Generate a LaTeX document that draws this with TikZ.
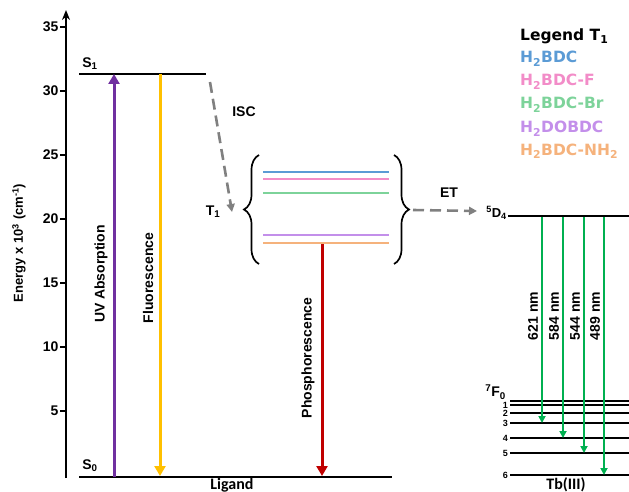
\documentclass[tikz,border=0pt]{standalone}
\usepackage{fontspec}
\setmainfont{Liberation Sans}
\newfontfamily\legendfont{DejaVu Sans}
\newfontfamily\basefont{Carlito}
\usetikzlibrary{arrows.meta,decorations.pathreplacing,positioning}
\definecolor{uvcolor}{HTML}{7030A0}
\definecolor{fluocolor}{HTML}{FFC000}
\definecolor{phoscolor}{HTML}{C00000}
\definecolor{tbgreen}{HTML}{00B050}
\definecolor{transfergray}{HTML}{808080}
\definecolor{bdcblue}{HTML}{5B9BD5}
\definecolor{bdcpink}{HTML}{F28CC8}
\definecolor{bdcgreen}{HTML}{7DD39A}
\definecolor{bdcpurple}{HTML}{C38FEA}
\definecolor{bdcorange}{HTML}{F5B27C}

\begin{document}
\begin{tikzpicture}[x=1pt, y=-1pt,
  every node/.style={font=\bfseries, inner sep=1pt},
  axisline/.style={line width=2.2pt, black},
  level/.style={line width=2.4pt, black},
  tline/.style={line width=2.2pt},
  emission/.style={line width=3pt, -{Triangle[width=11pt,length=10pt]}},
  transfer/.style={line width=2.6pt, transfergray, dash pattern=on 11pt off 6pt,
                   -{Triangle[width=8pt,length=8pt]}},
  tbline/.style={line width=1.8pt, tbgreen, -{Triangle[width=7pt,length=7pt]}},
  bracket/.style={line width=1.7pt, decorate, decoration={brace, amplitude=15pt, aspect=0.5}},
  statelabel/.style={font=\bfseries\fontsize{14}{16}\selectfont},
  sidelabel/.style={rotate=90, font=\bfseries\fontsize{14}{16}\selectfont},
  baselabel/.style={anchor=south, inner sep=0pt, font=\basefont\bfseries\fontsize{16}{18}\selectfont},
  legendentry/.style={anchor=base west, inner sep=0pt,
                      font=\legendfont\bfseries\fontsize{15.5}{18}\selectfont}]

%%=== COORDINATE PLAN (px, y downwards) ==============================
%%  Energy axis at x = 66; 0 at y = 475; 12.8 px per 10^3 cm^-1
%%  Ligand: S1 y = 74, S0 y = 477, T1 block y = 157 .. 262
%%  Tb(III): 5D4 y = 216, 7F0..7F6 y = 401 .. 475
%%====================================================================
\useasboundingbox (0,0) rectangle (629,492);

%% --- Energy axis ----------------------------------------------------
\coordinate (axisbot) at (66,478);
\coordinate (axistop) at (66,10);
\draw[axisline, -{Stealth[length=10pt,width=8pt]}] (axisbot) -- (axistop);
\foreach \v in {5,10,...,35}{
  \coordinate (tk\v) at (66,{475-12.8*\v});
  \draw[line width=1.2pt] (tk\v) -- ++(-6,0)
    node[left, font=\bfseries\fontsize{14}{16}\selectfont] (ticklab\v) {\v};
}
\node[rotate=90, font=\bfseries\fontsize{13}{15}\selectfont] (energylab) at (19,243)
  {Energy x 10\textsuperscript{3} (cm\textsuperscript{-1})};

%% --- Ligand levels --------------------------------------------------
\coordinate (S1left)  at (79,74);
\coordinate (S1right) at (206,74);
\coordinate (S0left)  at (79,477);
\coordinate (S0right) at (392,477);
\draw[level] (S1left) -- (S1right);
\draw[level] (S0left) -- (S0right);
\node[statelabel] (S1lab) at (90,64) {S\textsubscript{1}};
\node[statelabel] (S0lab) at (90,466) {S\textsubscript{0}};
\node[baselabel] (ligandlab) at (232,492) {Ligand};

%% UV absorption / fluorescence
\draw[emission, uvcolor]   (114,477) coordinate (uvbot) -- (114,74) coordinate (uvtop);
\draw[emission, fluocolor] (160,74) coordinate (fltop) -- (160,476) coordinate (flbot);
\node[sidelabel] (uvlab) at (101,274) {UV Absorption};
\node[sidelabel] (fllab) at (148,278) {Fluorescence};

%% --- T1 block -------------------------------------------------------
\coordinate (isc0) at (210,82);
\coordinate (isc1) at (232,212);
\draw[transfer] (isc0) -- (isc1);
\node[statelabel] (isclab) at (244,112) {ISC};
\node[statelabel] (T1lab) at (213,212) {T\textsubscript{1}};

\draw[bracket] (259,264) -- (259,155) coordinate[pos=0.5] (leftbrace);
\draw[bracket] (394,155) -- (394,264);
\coordinate (rightbrace) at (413,210);
\foreach \c/\y in {bdcblue/172, bdcpink/179, bdcgreen/193, bdcpurple/235, bdcorange/243}
  \draw[tline, \c] (263,\y) -- (389,\y);

\coordinate (phtop) at (322,244);
\coordinate (phbot) at (322,476);
\draw[emission, phoscolor] (phtop) -- (phbot);
\node[sidelabel] (phlab) at (308,358) {Phosphorescence};

%% --- Energy transfer ------------------------------------------------
\coordinate (etend) at (477,211);
\draw[transfer] (rightbrace) -- (etend);
\node[statelabel] (etlab) at (449,193) {ET};

%% --- Tb(III) levels -------------------------------------------------
\coordinate (D4left)  at (508,216);
\coordinate (D4right) at (629,216);
\draw[level] (D4left) -- (D4right);
\node[anchor=east, font=\bfseries\fontsize{13}{15}\selectfont] (D4lab) at (508,213)
  {\textsuperscript{5}D\textsubscript{4}};
\foreach \n/\y in {0/401,1/405,2/413,3/423,4/438,5/453,6/475}{
  \coordinate (F\n) at (510,\y);
  \draw[level, line width=2pt] (F\n) -- (629,\y);
}
\node[anchor=east, font=\bfseries\fontsize{14}{16}\selectfont] (F0lab) at (507,392)
  {\textsuperscript{7}F\textsubscript{0}};
\foreach \n/\y in {1/405,2/413,3/423,4/438,5/453,6/475}
  \node[anchor=east, font=\bfseries\fontsize{9}{10}\selectfont] (F\n lab) at (509,\y) {\n};
\node[baselabel] (tblab) at (566,492) {Tb(III)};

%% green emissions 5D4 -> 7FJ
\foreach \x/\y/\nm/\lx in {542/423/621/533, 563/438/584/554, 584/453/544/575, 604/475/489/595}{
  \draw[tbline] (\x,217) coordinate (em\nm top) -- (\x,\y) coordinate (em\nm bot);
  \node[rotate=90, font=\bfseries\fontsize{14}{16}\selectfont] (em\nm lab) at (\lx,316) {\nm\ nm};
}

%% --- Legend ---------------------------------------------------------
\node[legendentry] (legtitle) at (520,41) {Legend T\textsubscript{1}};
\node[legendentry, text=bdcblue]   (leg1) at (520,63)  {H\textsubscript{2}BDC};
\node[legendentry, text=bdcpink]   (leg2) at (520,86)  {H\textsubscript{2}BDC-F};
\node[legendentry, text=bdcgreen]  (leg3) at (520,109) {H\textsubscript{2}BDC-Br};
\node[legendentry, text=bdcpurple] (leg4) at (520,133) {H\textsubscript{2}DOBDC};
\node[legendentry, text=bdcorange] (leg5) at (520,155) {H\textsubscript{2}BDC-NH\textsubscript{2}};

\end{tikzpicture}
\end{document}
